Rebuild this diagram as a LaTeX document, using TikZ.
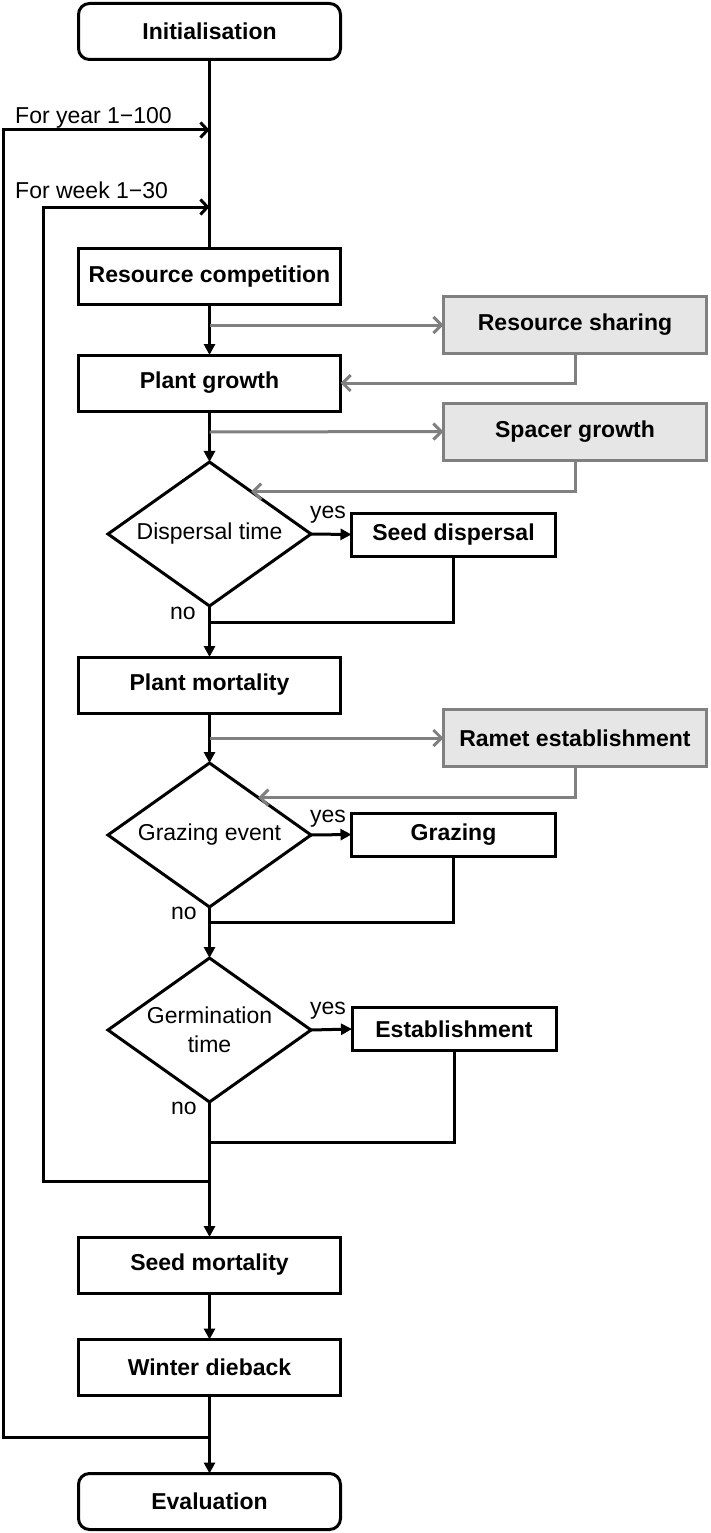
\documentclass[tikz,border=0pt]{standalone}
\usepackage{fontspec}
\setmainfont{Liberation Sans}
\usetikzlibrary{shapes.geometric,arrows.meta,calc}
\definecolor{grayline}{RGB}{128,128,128}
\definecolor{grayfill}{RGB}{230,230,230}
\begin{document}
\begin{tikzpicture}[x=1pt,y=-1pt,
  every node/.style={font=\fontsize{23}{29}\selectfont},
  proc/.style={draw, line width=3pt, minimum width=262pt, minimum height=56pt, inner sep=0pt, outer sep=0pt, font=\fontsize{23}{29}\selectfont\bfseries},
  term/.style={proc, rounded corners=11pt},
  side/.style={draw=grayline, fill=grayfill, line width=3pt, minimum width=263pt, minimum height=57pt, inner sep=0pt, outer sep=0pt, font=\fontsize{23}{29}\selectfont\bfseries},
  branch/.style={draw, line width=3pt, minimum width=204pt, minimum height=43pt, inner sep=0pt, outer sep=0pt, font=\fontsize{23}{29}\selectfont\bfseries},
  decision/.style={diamond, draw, line width=3pt, minimum width=203pt, minimum height=144pt, aspect=1.4, inner sep=0pt, outer sep=0pt, align=center},
  lbl/.style={inner sep=0pt},
  flow/.style={line width=3pt, -{Triangle[length=11pt,width=11pt]}},
  plain/.style={line width=3pt},
  loopar/.style={line width=3pt, -{Straight Barb[length=7pt,width=15pt,line width=3pt]}},
  garrow/.style={draw=grayline, line width=3pt, -{Straight Barb[length=8pt,width=16pt,line width=3pt]}},
]
\useasboundingbox (0,0) rectangle (710,1533);

% main column
\node[term] (init) at (209.5,31.5) {Initialisation};
\node[proc] (rc) at (209.5,276.5) {Resource competition};
\node[proc] (pg) at (209.5,383) {Plant growth};
\node[decision] (disp) at (209.5,534) {Dispersal time};
\node[branch] (sd) at (453.5,534.5) {Seed dispersal};
\node[proc] (pm) at (209.5,685) {Plant mortality};
\node[decision] (graz) at (209.5,835) {Grazing event};
\node[branch] (gz) at (453.5,834.5) {Grazing};
\node[decision] (germ) at (209.5,1030) {Germination\\time};
\node[branch] (est) at (454,1029) {Establishment};
\node[proc] (sm) at (209.5,1265) {Seed mortality};
\node[proc] (wd) at (209.5,1367.5) {Winter dieback};
\node[term] (eval) at (209.5,1501.5) {Evaluation};

% side processes
\node[side] (rs) at (575,325) {Resource sharing};
\node[side] (sg) at (575,431.5) {Spacer growth};
\node[side] (re) at (575,738) {Ramet establishment};

% labels
\node[lbl, anchor=base west] (ly) at (15,124) {For year 1−100};
\node[lbl, anchor=base west] (lw) at (15,199) {For week 1−30};
\node[lbl] (yes1) at (328,515) {yes};
\node[lbl] (no1) at (183,613) {no};
\node[lbl] (yes2) at (328,819) {yes};
\node[lbl] (no2) at (184,913) {no};
\node[lbl] (yes3) at (328,1011) {yes};
\node[lbl] (no3) at (184,1108) {no};

% helper coordinates on the main line
\coordinate (yt) at (209.5,130);
\coordinate (wt) at (209.5,207);
\coordinate (g1) at (209.5,325);
\coordinate (g2) at (209.5,432);
\coordinate (g3) at (209.5,738);
\coordinate (m1) at (209.5,622);
\coordinate (m2) at (209.5,922);
\coordinate (m3) at (209.5,1142);
\coordinate (wl) at (209.5,1181);
\coordinate (yl) at (209.5,1437);

% main flow
\draw[plain] (init) -- (rc);
\draw[flow] (rc) -- (pg);
\draw[flow] (pg) -- (disp);
\draw[flow] (disp) -- (pm);
\draw[flow] (pm) -- (graz);
\draw[flow] (graz) -- (germ);
\draw[flow] (germ) -- (sm);
\draw[flow] (sm) -- (wd);
\draw[flow] (wd) -- (eval);

% yes branches
\draw[flow] (disp.east) -- (sd.west);
\draw[flow] (graz.east) -- (gz.west);
\draw[flow] (germ.east) -- (est.west);
\draw[plain] (sd.south) |- (m1);
\draw[plain] (gz.south) |- (m2);
\draw[plain] (est.south) |- (m3);

% side processes
\draw[garrow] (g1) -- (rs.west);
\draw[garrow] (rs.south) |- (pg.east);
\draw[garrow] (g2) -- (sg.west);
\draw[garrow] (sg.south) |- ($(disp.north)!0.41!(disp.east)$);
\draw[garrow] (g3) -- (re.west);
\draw[garrow] (re.south) |- ($(graz.north)!0.48!(graz.east)$);

% loops
\draw[loopar] (yl) -- ++(-206.5,0) |- (yt);
\draw[loopar] (wl) -- ++(-166.5,0) |- (wt);
\end{tikzpicture}
\end{document}
